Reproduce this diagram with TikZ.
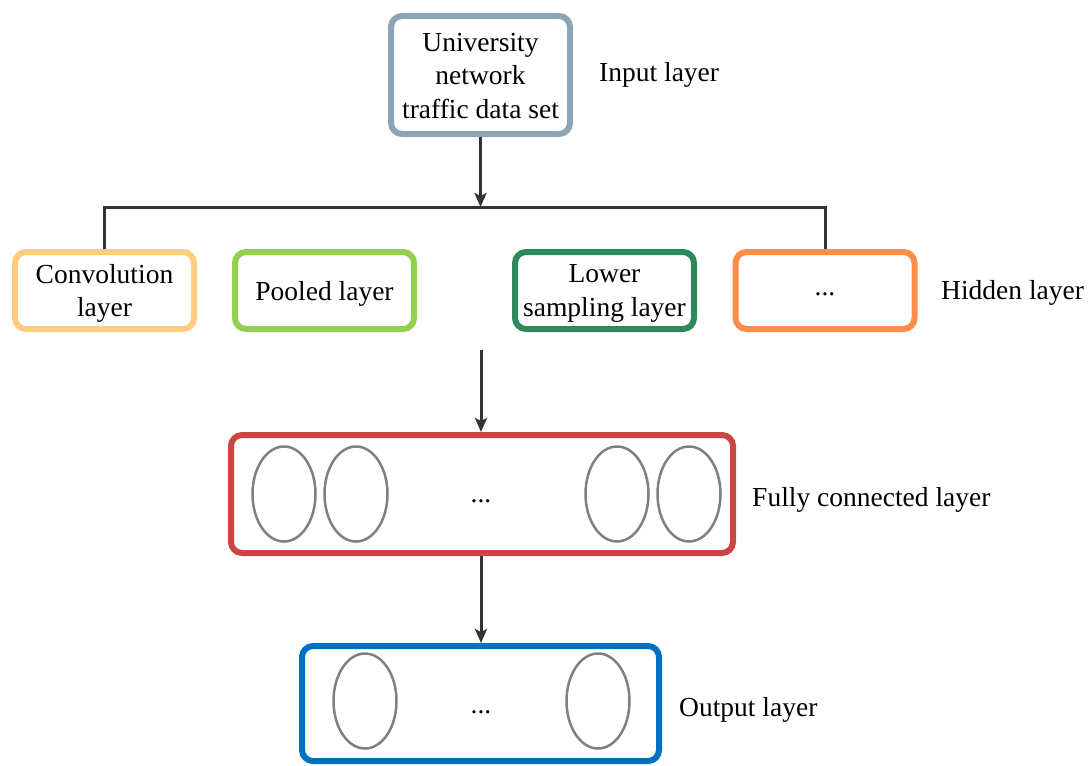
\documentclass[tikz,border=0pt]{standalone}
\usepackage{fontspec}
\setmainfont{Liberation Serif}
\usetikzlibrary{arrows.meta,shapes.geometric}

\definecolor{inputc}{RGB}{139,165,182}
\definecolor{convc}{RGB}{255,204,128}
\definecolor{poolc}{RGB}{146,208,80}
\definecolor{lowc}{RGB}{44,137,88}
\definecolor{morec}{RGB}{255,140,72}
\definecolor{fcc}{RGB}{204,68,68}
\definecolor{outc}{RGB}{0,112,192}
\definecolor{cellc}{RGB}{128,128,128}
\definecolor{linkc}{RGB}{51,51,51}

\tikzset{
  txt/.style={align=center, inner sep=0pt, font=\fontsize{27.5}{33.5}\selectfont},
  layerbox/.style={draw=#1, line width=6pt, rounded corners=11pt, fill=white,
    inner sep=0pt},
  hidbox/.style={layerbox=#1, minimum width=179pt, minimum height=77pt},
  cell/.style={ellipse, draw=cellc, line width=2.5pt, minimum width=63pt,
    minimum height=95pt, inner sep=0pt},
  tag/.style={txt, anchor=west},
  link/.style={draw=linkc, line width=3pt},
  flow/.style={link, -{Stealth[length=14pt,width=12pt,inset=3pt]}}
}

\begin{document}
\begin{tikzpicture}[x=1pt,y=-1pt]
\useasboundingbox (0,0) rectangle (1091,765);

% input layer
\node[layerbox=inputc, minimum width=179pt, minimum height=118pt] (in) at (480.5,75) {};
\node[txt] (intxt) at (480.5,76) {University\\network\\traffic data set};
\node[tag] (intag) at (599,75) {Input layer};

% hidden layers
\node[hidbox=convc]  (conv) at (104.5,290.5) {};
\node[hidbox=poolc]  (pool) at (324.5,290.5) {};
\node[hidbox=lowc]   (low)  at (604.5,290.5) {};
\node[hidbox=morec]  (more) at (825,290.5)   {};
\node[txt] (convtxt) at (104.5,293.5) {Convolution\\layer};
\node[txt] (pooltxt) at (324.5,293.5) {Pooled layer};
\node[txt] (lowtxt)  at (604.5,293.5) {Lower\\sampling layer};
\node[txt] (moretxt) at (825,294)     {...};
\node[tag] (hidtag) at (941,293) {Hidden layer};

% fully connected layer
\node[layerbox=fcc, minimum width=502pt, minimum height=118pt] (fc) at (482,494) {};
\node[cell] (fc1) at (284,494) {};
\node[cell] (fc2) at (356,494) {};
\node[cell] (fc3) at (617,494) {};
\node[cell] (fc4) at (689,494) {};
\node[txt] (fcdots) at (481,501.5) {...};
\node[tag] (fctag) at (752,500) {Fully connected layer};

% output layer
\node[layerbox=outc, minimum width=357pt, minimum height=115pt] (out) at (480.5,703.5) {};
\node[cell] (out1) at (365,701) {};
\node[cell] (out2) at (598,701) {};
\node[txt] (outdots) at (481,712.5) {...};
\node[tag] (outtag) at (679,710) {Output layer};

% connectors
\coordinate (busL) at (104.5,207);
\coordinate (busM) at (480.5,207);
\coordinate (busR) at (825,207);
\coordinate (hidout) at (481,350);

\draw[flow] (in.south) -- (busM);
\draw[link] (conv.north) -- (busL) -- (busR) -- (more.north);
\draw[flow] (hidout) -- (fc.north -| hidout);
\draw[flow] (fc.south -| hidout) -- (out.north -| hidout);
\end{tikzpicture}
\end{document}
